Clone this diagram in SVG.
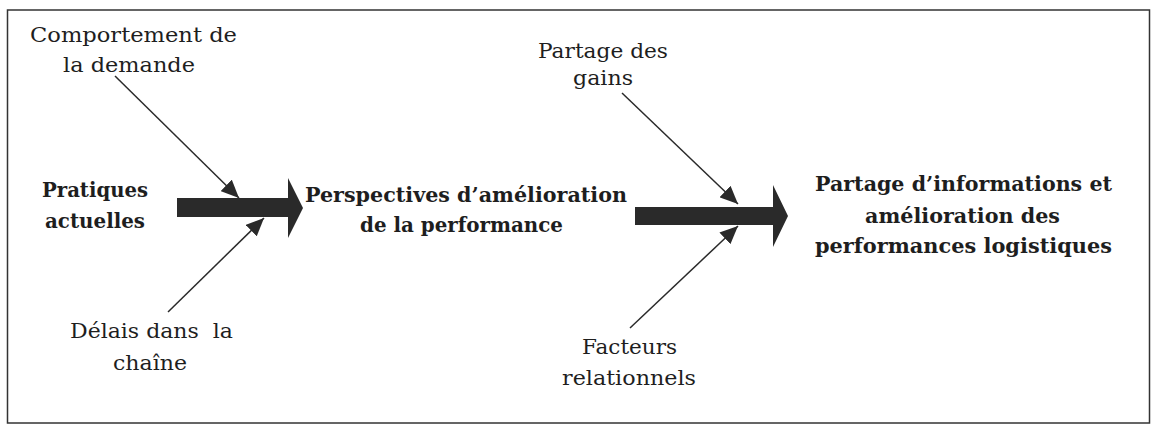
<svg xmlns="http://www.w3.org/2000/svg" width="1153" height="426" viewBox="0 0 1153 426">
<style>
.t{font-family:"DejaVu Serif","Liberation Serif",serif;font-size:20px;fill:#1e1e1e}
.b{font-family:"DejaVu Serif","Liberation Serif",serif;font-size:20px;font-weight:bold;fill:#1e1e1e}
.big{fill:#2a2a2a}
.c{stroke:#2a2a2a;stroke-width:1.5;fill:none;marker-end:url(#ah)}
</style>
<defs>
<marker id="ah" markerUnits="userSpaceOnUse" markerWidth="20" markerHeight="16" refX="18" refY="8" orient="auto">
<path d="M0,0 L18,8 L0,16 Z" fill="#2a2a2a"/>
</marker>
</defs>
<rect x="0" y="0" width="1153" height="426" fill="#ffffff"/>
<rect id="frame" x="7.5" y="10" width="1142" height="413" fill="none" stroke="#333" stroke-width="1.5"/>
<g id="connectors">
<polygon class="big" points="177,198 288,198 288,178 303,208 288,238 288,217 177,217"/>
<polygon class="big" points="635,207 773,207 773,185 788,216 773,247 773,225 635,225"/>
<line class="c" x1="115" y1="76" x2="239" y2="198"/>
<line class="c" x1="168" y1="312" x2="264" y2="218"/>
<line class="c" x1="622" y1="93" x2="738" y2="204"/>
<line class="c" x1="630" y1="328" x2="738" y2="226"/>
</g>
<g id="n-comportement">
<text class="t" x="30" y="42" textLength="207" lengthAdjust="spacingAndGlyphs">Comportement de</text>
<text class="t" x="63" y="72" textLength="132" lengthAdjust="spacingAndGlyphs">la demande</text>
</g>
<g id="n-pratiques">
<text class="b" x="42" y="197" textLength="106" lengthAdjust="spacingAndGlyphs">Pratiques</text>
<text class="b" x="45" y="228" textLength="100" lengthAdjust="spacingAndGlyphs">actuelles</text>
</g>
<g id="n-delais">
<text class="t" x="70" y="338" textLength="163" lengthAdjust="spacingAndGlyphs" xml:space="preserve">Délais dans  la</text>
<text class="t" x="113" y="370" textLength="74" lengthAdjust="spacingAndGlyphs">chaîne</text>
</g>
<g id="n-perspectives">
<text class="b" x="305" y="202" textLength="322" lengthAdjust="spacingAndGlyphs">Perspectives d’amélioration</text>
<text class="b" x="360" y="232" textLength="203" lengthAdjust="spacingAndGlyphs">de la performance</text>
</g>
<g id="n-gains">
<text class="t" x="538" y="58" textLength="130" lengthAdjust="spacingAndGlyphs">Partage des</text>
<text class="t" x="573" y="85" textLength="60" lengthAdjust="spacingAndGlyphs">gains</text>
</g>
<g id="n-facteurs">
<text class="t" x="582" y="354" textLength="95" lengthAdjust="spacingAndGlyphs">Facteurs</text>
<text class="t" x="562" y="385" textLength="134" lengthAdjust="spacingAndGlyphs">relationnels</text>
</g>
<g id="n-partage">
<text class="b" x="815" y="191" textLength="297" lengthAdjust="spacingAndGlyphs">Partage d’informations et</text>
<text class="b" x="865" y="223" textLength="195" lengthAdjust="spacingAndGlyphs">amélioration des</text>
<text class="b" x="815" y="253" textLength="297" lengthAdjust="spacingAndGlyphs">performances logistiques</text>
</g>
</svg>
